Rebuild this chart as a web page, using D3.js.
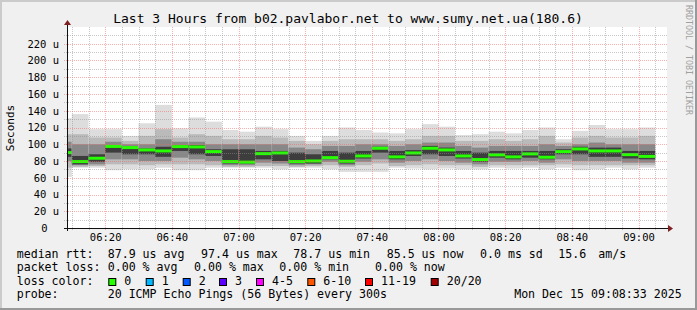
<!DOCTYPE html>
<html>
<head>
<meta charset="utf-8">
<script src="https://cdn.jsdelivr.net/npm/d3@7"></script>
<style>
  body { margin: 0; background: #f0f0f0; }
  text { font-family: "DejaVu Sans Mono", monospace; white-space: pre; }
</style>
</head>
<body>
<svg id="chart" width="697" height="310"></svg>
<script>
// 5 minute slots (start time) and the ping spread in microseconds
var slots = ["06:05","06:10","06:15","06:20","06:25","06:30","06:35","06:40","06:45","06:50","06:55",
             "07:00","07:05","07:10","07:15","07:20","07:25","07:30","07:35","07:40","07:45","07:50","07:55",
             "08:00","08:05","08:10","08:15","08:20","08:25","08:30","08:35","08:40","08:45","08:50","08:55","09:00"];
var median = [90,79.3,83.3,97.4,96,93.2,92,97.2,96.8,91.2,79.3,78.7,88.8,89.6,79.3,80,84,79.7,86,95.2,84.9,89.6,95.2,93.2,86,81.7,87.3,84.9,88.5,84.5,91.2,94.4,92,92,87.6,85.5];
var pMax = [131,136,118,118,110,125,147,119,132,127,117,115,121,118,110,104,110,120,117,114,113,118,124,121,111,112,115,113,117,120,106,116,123,118,118,120];
var p90  = [112,112,108,108,104,110,118,108,112,110,106,106,110,108,104,100,104,106,106,106,104,106,110,110,104,104,106,104,106,110,102,108,110,108,108,110];
var p75  = [103,100,100,103,100,100,106,103,103,100,100,100,100,100,96,94,98,98,100,100,98,100,102,102,98,96,98,98,98,100,98,100,102,100,100,100];
var p60  = [95,86,88,99,97,95,97,99,99,94,94,94,92,92,90,88,92,90,92,97,92,93,98,96,92,90,92,92,92,92,94,97,96,96,92,92];
var p40  = [85,76,79,90,88,88,85,92,88,86,77,77,82,80,77,77,82,77,83,90,82,86,88,86,83,79,84,82,84,82,88,88,85,85,83,82];
var p25  = [80,75,76,82,82,80,80,84,82,80,75,75,78,77,75,76,79,75,79,82,78,80,82,80,78,76,79,79,80,78,82,80,80,80,78,78];
var p10  = [72,73,74,76,76,75,76,76,76,75,73,73,74,74,73,74,75,73,75,77,74,75,76,75,75,73,75,75,75,75,76,75,75,75,75,75];
var pMin = [61,72,72,69,70,70,72,69,69,72,72,72,72,70,72,72,70,67,67,67,72,71,70,71,70,70,72,71,72,70,72,69,70,72,70,72];

var yTicks = [0,20,40,60,80,100,120,140,160,180,200,220];

var rttLabels = ["median rtt:","87.9 us avg","97.4 us max","78.7 us min","85.5 us now","0.0 ms sd","15.6","am/s"];
var rttX      = [16.7,107.7,201,293.3,386.7,480,558.3,598.3];
var lossLabels = ["packet loss:","0.00 % avg","0.00 % max","0.00 % min","0.00 % now"];
var lossX      = [16.7,107.7,194,279.3,375];
var lossColorNames = ["0","1","2","3","4-5","6-10","11-19","20/20"];
var lossColors     = ["#26ff00","#00b8ff","#0059ff","#5e00ff","#ff00ff","#ff5500","#ff0000","#a10000"];
var lossColorX     = [108.3,145.7,182.7,219,256,307.3,365,430.7];

var svg = d3.select("#chart");
var W = 697, H = 310;
var plotL = 67, plotR = 667, plotT = 27, plotB = 228;

// frame
svg.append("rect").attr("width", W).attr("height", H).attr("fill", "#f0f0f0");
svg.append("rect").attr("x", 0).attr("y", 0).attr("width", W).attr("height", 2).attr("fill", "#cbcbcb");
svg.append("rect").attr("x", 0).attr("y", 0).attr("width", 2).attr("height", H).attr("fill", "#cbcbcb");
svg.append("rect").attr("x", W - 2).attr("y", 0).attr("width", 2).attr("height", H).attr("fill", "#999999");
svg.append("rect").attr("x", 0).attr("y", H - 2).attr("width", W).attr("height", 2).attr("fill", "#999999");

svg.append("rect").attr("x", plotL).attr("y", plotT).attr("width", plotR - plotL).attr("height", plotB - plotT).attr("fill", "#ffffff");

var parse = d3.timeParse("%H:%M:%S");
var x = d3.scaleTime().domain([parse("06:08:33"), parse("09:08:33")]).range([plotL, plotR]);
var y = d3.scaleLinear().domain([0, 240]).range([plotB, plotT]);

// smoke
var bands = [[pMin, pMax, "#dddddd"], [p10, p90, "#bababa"], [p25, p75, "#888888"], [p40, p60, "#3d3d3d"]];
var smoke = svg.append("g");
slots.forEach(function(s, i) {
  var t0 = parse(s + ":00");
  var t1 = d3.timeMinute.offset(t0, 5);
  var x0 = Math.max(plotL, x(t0)), x1 = x(t1);
  bands.forEach(function(b) {
    smoke.append("rect")
      .attr("x", x0).attr("width", x1 - x0)
      .attr("y", y(b[1][i])).attr("height", y(b[0][i]) - y(b[1][i]))
      .attr("fill", b[2]);
  });
  smoke.append("rect")
    .attr("x", x0).attr("width", x1 - x0)
    .attr("y", y(median[i]) - 1.5).attr("height", 3)
    .attr("fill", lossColors[0]);
});

// grid on top
var grid = svg.append("g").attr("shape-rendering", "crispEdges");
d3.range(10, 240, 10).forEach(function(v) {
  var major = v % 20 == 0;
  grid.append("line")
    .attr("x1", plotL - 3).attr("x2", plotR)
    .attr("y1", Math.round(y(v)) + 0.5).attr("y2", Math.round(y(v)) + 0.5)
    .attr("stroke", major ? "rgba(247,98,98,0.5)" : "rgba(143,143,143,0.5)")
    .attr("stroke-dasharray", "1,1");
});
d3.timeMinute.every(5).range(parse("06:10:00"), parse("09:08:00")).forEach(function(t) {
  var major = t.getMinutes() % 20 == 0;
  grid.append("line")
    .attr("x1", Math.round(x(t)) + 0.5).attr("x2", Math.round(x(t)) + 0.5)
    .attr("y1", plotT).attr("y2", plotB + 3)
    .attr("stroke", major ? "rgba(247,98,98,0.5)" : "rgba(143,143,143,0.5)")
    .attr("stroke-dasharray", "1,1");
});

// axes
svg.append("line").attr("x1", plotL - 3).attr("x2", plotR + 1).attr("y1", plotB + 0.5).attr("y2", plotB + 0.5).attr("stroke", "#101010");
svg.append("line").attr("x1", plotL + 0.5).attr("x2", plotL + 0.5).attr("y1", plotB + 3).attr("y2", plotT - 3).attr("stroke", "#101010");
svg.append("path").attr("d", "M" + (plotR + 1) + "," + (plotB - 3) + "L" + (plotR + 6) + "," + (plotB + 0.5) + "L" + (plotR + 1) + "," + (plotB + 4) + "Z").attr("fill", "#7f1f1f");
svg.append("path").attr("d", "M" + (plotL - 3) + "," + (plotT - 2) + "L" + (plotL + 0.5) + "," + (plotT - 7) + "L" + (plotL + 4) + "," + (plotT - 2) + "Z").attr("fill", "#7f1f1f");

var yAxis = svg.append("g").attr("transform", "translate(" + plotL + ",0)")
  .call(d3.axisLeft(y).tickValues(yTicks).tickSize(0).tickPadding(8)
    .tickFormat(function(v) { return v == 0 ? "0" : v + " u"; }));
yAxis.select(".domain").remove();
yAxis.selectAll("text").attr("font-size", "10.5px").attr("fill", "#000")
  .attr("dx", function(v) { return v == 0 ? -11.5 : 0; });

var xAxis = svg.append("g").attr("transform", "translate(0," + plotB + ")")
  .call(d3.axisBottom(x).ticks(d3.timeMinute.every(20)).tickSize(0).tickPadding(6)
    .tickFormat(d3.timeFormat("%H:%M")));
xAxis.select(".domain").remove();
xAxis.selectAll("text").attr("font-size", "10.5px").attr("fill", "#000");

// titles
svg.append("text").attr("x", 348).attr("y", 23).attr("text-anchor", "middle")
  .attr("font-size", "13px").text("Last 3 Hours from b02.pavlabor.net to www.sumy.net.ua(180.6)");
svg.append("text").attr("transform", "translate(14,128) rotate(-90)").attr("text-anchor", "middle")
  .attr("font-size", "11px").text("Seconds");
svg.append("text").attr("transform", "translate(686,5) rotate(90)").attr("font-size", "8.3px")
  .attr("fill", "#a0a0a0").text("RRDTOOL / TOBI OETIKER");

// legend
var fs = "11.6px";
rttLabels.forEach(function(s, i) {
  svg.append("text").attr("x", rttX[i]).attr("y", 257.5).attr("font-size", fs).text(s);
});
lossLabels.forEach(function(s, i) {
  svg.append("text").attr("x", lossX[i]).attr("y", 271).attr("font-size", fs).text(s);
});
svg.append("text").attr("x", 16.7).attr("y", 284.7).attr("font-size", fs).text("loss color:");
lossColorNames.forEach(function(s, i) {
  svg.append("rect").attr("x", lossColorX[i] + 0.5).attr("y", 278.5).attr("width", 7).attr("height", 7)
    .attr("fill", lossColors[i]).attr("stroke", "#000");
  svg.append("text").attr("x", lossColorX[i] + 16).attr("y", 284.7).attr("font-size", fs).text(s);
});
svg.append("text").attr("x", 16.7).attr("y", 298.4).attr("font-size", fs).text("probe:");
svg.append("text").attr("x", 107.7).attr("y", 298.4).attr("font-size", fs).text("20 ICMP Echo Pings (56 Bytes) every 300s");
svg.append("text").attr("x", 681.7).attr("y", 298.4).attr("text-anchor", "end").attr("font-size", fs).text("Mon Dec 15 09:08:33 2025");
</script>
</body>
</html>
